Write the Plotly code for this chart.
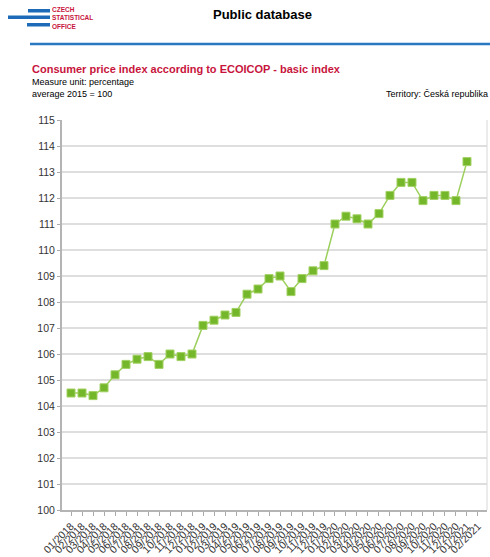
import plotly.graph_objects as go

# Monthly consumer price index (average 2015 = 100), 01/2018 - 02/2021
months = [
    "01/2018", "02/2018", "03/2018", "04/2018", "05/2018", "06/2018",
    "07/2018", "08/2018", "09/2018", "10/2018", "11/2018", "12/2018",
    "01/2019", "02/2019", "03/2019", "04/2019", "05/2019", "06/2019",
    "07/2019", "08/2019", "09/2019", "10/2019", "11/2019", "12/2019",
    "01/2020", "02/2020", "03/2020", "04/2020", "05/2020", "06/2020",
    "07/2020", "08/2020", "09/2020", "10/2020", "11/2020", "12/2020",
    "01/2021", "02/2021",
]
cpi = [
    104.5, 104.5, 104.4, 104.7, 105.2, 105.6,
    105.8, 105.9, 105.6, 106.0, 105.9, 106.0,
    107.1, 107.3, 107.5, 107.6, 108.3, 108.5,
    108.9, 109.0, 108.4, 108.9, 109.2, 109.4,
    111.0, 111.3, 111.2, 111.0, 111.4, 112.1,
    112.6, 112.6, 111.9, 112.1, 112.1, 111.9,
    113.4, None,
]
y_ticks = list(range(100, 116))

W, H = 490, 557
L, R, T, B = 62, 3, 120, 47
PW, PH = W - L - R, H - T - B


def px(x):
    return (x - L) / PW


def py(y):
    return (H - B - y) / PH


FONT = "Liberation Sans, Arial, sans-serif"
RED = "#c8143c"
BLUE = "#1d6ab8"

fig = go.Figure()
fig.add_trace(go.Scatter(
    x=months, y=cpi, mode="lines+markers",
    line=dict(color="#9ccf5c", width=1.5),
    marker=dict(symbol="square", size=8, color="#74b72a",
                line=dict(color="#a2d163", width=1)),
    hoverinfo="x+y", showlegend=False,
))

shapes = [
    # logo bars
    dict(type="rect", xref="paper", yref="paper", x0=px(28), x1=px(50),
         y0=py(12.5), y1=py(9), fillcolor=BLUE, line_width=0, layer="above"),
    dict(type="rect", xref="paper", yref="paper", x0=px(8), x1=px(50),
         y0=py(19), y1=py(15.5), fillcolor=BLUE, line_width=0, layer="above"),
    dict(type="rect", xref="paper", yref="paper", x0=px(27), x1=px(50),
         y0=py(26.5), y1=py(23), fillcolor=BLUE, line_width=0, layer="above"),
    # header rule
    dict(type="line", xref="paper", yref="paper", x0=px(30), x1=px(490),
         y0=py(44), y1=py(44), line=dict(color="#2a78c2", width=2.5)),
    # right frame edge
    dict(type="line", xref="paper", yref="paper", x0=1, x1=1, y0=0, y1=1,
         line=dict(color="#d8d8d8", width=1)),
]

annotations = []


def label(x, y, text, size, color="#000", bold=False, anchor="left"):
    if bold:
        text = "<b>" + text + "</b>"
    annotations.append(dict(
        xref="paper", yref="paper", x=px(x), y=py(y), text=text,
        showarrow=False, xanchor=anchor, yanchor="middle", align="left",
        borderpad=0,
        font=dict(family=FONT, size=size, color=color),
    ))


label(51, 17.5, "CZECH<br>STATISTICAL<br>OFFICE", 6.5, RED, bold=True)
label(262, 14, "Public database", 13, "#000", bold=True, anchor="center")
label(31, 69, "Consumer price index according to ECOICOP - basic index", 11, RED, bold=True)
label(31, 82, "Measure unit: percentage", 9, "#000")
label(31, 93.5, "average 2015 = 100", 9, "#000")
label(489, 93.5, "Territory: Česká republika", 9, "#000", anchor="right")

fig.update_layout(
    width=W, height=H,
    margin=dict(l=L, r=R, t=T, b=B, pad=0),
    paper_bgcolor="white", plot_bgcolor="white",
    font=dict(family=FONT, size=10, color="#333"),
    shapes=shapes, annotations=annotations,
    xaxis=dict(
        type="category", range=[-0.82, 37.82],
        tickmode="array", tickvals=months, ticktext=months,
        tickangle=-45, tickfont=dict(size=10.5, color="#333"),
        ticks="outside", ticklen=4, tickcolor="#aaa", tickwidth=1,
        showgrid=False, showline=True, linecolor="#b4b4b4", linewidth=2,
        zeroline=False, automargin=False,
    ),
    yaxis=dict(
        range=[100, 115], tickmode="array", tickvals=y_ticks,
        tickfont=dict(size=10.5, color="#333"),
        ticks="outside", ticklen=3, tickcolor="#aaa", tickwidth=1,
        showgrid=True, gridcolor="#dedede", gridwidth=1.5,
        showline=True, linecolor="#b4b4b4", linewidth=2,
        zeroline=False, automargin=False,
    ),
)

fig.write_html("out.html")
